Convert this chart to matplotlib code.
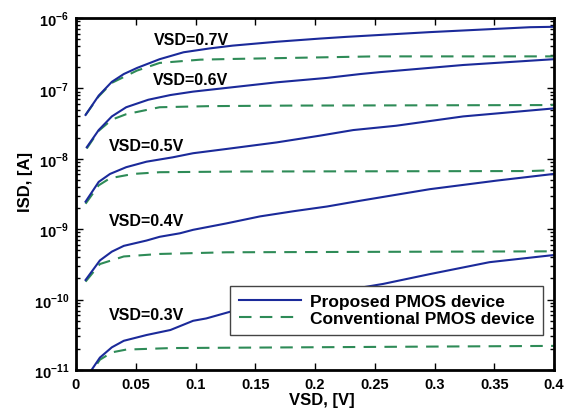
import numpy as np
import matplotlib
matplotlib.use("Agg")
import matplotlib.pyplot as plt
from matplotlib.ticker import FixedLocator, FixedFormatter, LogLocator, NullFormatter

plt.rcParams['font.family'] = ['Liberation Sans', 'DejaVu Sans']
plt.rcParams['font.weight'] = 'bold'
plt.rcParams['mathtext.fontset'] = 'custom'
plt.rcParams['mathtext.rm'] = 'Liberation Sans:bold'
plt.rcParams['mathtext.bf'] = 'Liberation Sans:bold'

# courbes : tension VSD (V) et courant ISD (A)
vsd_labels = ['VSD=0.7V', 'VSD=0.6V', 'VSD=0.5V', 'VSD=0.4V', 'VSD=0.3V']

x_p07 = [0.008, 0.019, 0.030, 0.040, 0.051, 0.070, 0.090, 0.112, 0.131, 0.168, 0.204, 0.2265, 0.296, 0.380, 0.400]
y_p07 = [4.2e-8, 7.9e-8, 1.24e-7, 1.6e-7, 1.95e-7, 2.6e-7, 3.26e-7, 3.7e-7, 4.05e-7, 4.6e-7, 5.1e-7, 5.4e-7, 6.3e-7, 7.4e-7, 7.5e-7]
x_c07 = [0.008, 0.019, 0.030, 0.051, 0.070, 0.104, 0.131, 0.200, 0.250, 0.400]
y_c07 = [4.2e-8, 7.7e-8, 1.2e-7, 1.79e-7, 2.3e-7, 2.56e-7, 2.62e-7, 2.75e-7, 2.85e-7, 2.85e-7]

x_p06 = [0.009, 0.019, 0.030, 0.042, 0.0605, 0.079, 0.098, 0.129, 0.168, 0.210, 0.238, 0.254, 0.324, 0.400]
y_p06 = [1.46e-8, 2.56e-8, 4.0e-8, 5.4e-8, 6.9e-8, 8.05e-8, 9.0e-8, 1.03e-7, 1.22e-7, 1.41e-7, 1.6e-7, 1.7e-7, 2.15e-7, 2.6e-7]
x_c06 = [0.009, 0.019, 0.030, 0.042, 0.070, 0.112, 0.180, 0.400]
y_c06 = [1.4e-8, 2.5e-8, 3.6e-8, 4.3e-8, 5.4e-8, 5.6e-8, 5.7e-8, 5.8e-8]

x_p05 = [0.008, 0.019, 0.0285, 0.042, 0.059, 0.081, 0.098, 0.126, 0.168, 0.204, 0.232, 0.268, 0.324, 0.400]
y_p05 = [2.46e-9, 4.7e-9, 6.1e-9, 7.6e-9, 9.1e-9, 1.05e-8, 1.2e-8, 1.38e-8, 1.71e-8, 2.13e-8, 2.56e-8, 2.95e-8, 4.0e-8, 5.2e-8]
x_c05 = [0.008, 0.019, 0.0285, 0.048, 0.070, 0.140, 0.380, 0.400]
y_c05 = [2.3e-9, 4.2e-9, 5.3e-9, 6.1e-9, 6.45e-9, 6.6e-9, 6.7e-9, 6.9e-9]

x_p04 = [0.008, 0.020, 0.030, 0.040, 0.059, 0.070, 0.087, 0.098, 0.126, 0.154, 0.182, 0.210, 0.238, 0.296, 0.352, 0.400]
y_p04 = [1.9e-10, 3.6e-10, 4.8e-10, 5.8e-10, 6.9e-10, 7.8e-10, 8.75e-10, 9.8e-10, 1.21e-9, 1.52e-9, 1.8e-9, 2.1e-9, 2.54e-9, 3.7e-9, 4.9e-9, 6.1e-9]
x_c04 = [0.008, 0.020, 0.040, 0.070, 0.126, 0.400]
y_c04 = [1.8e-10, 3.2e-10, 4.1e-10, 4.45e-10, 4.7e-10, 4.85e-10]

x_p03 = [0.008, 0.013, 0.020, 0.030, 0.040, 0.059, 0.079, 0.098, 0.109, 0.132, 0.150, 0.200, 0.257, 0.296, 0.346, 0.400]
y_p03 = [7.5e-12, 1.0e-11, 1.5e-11, 2.1e-11, 2.6e-11, 3.14e-11, 3.7e-11, 5.0e-11, 5.4e-11, 6.95e-11, 8.0e-11, 1.15e-10, 1.67e-10, 2.3e-10, 3.4e-10, 4.3e-10]
x_c03 = [0.008, 0.020, 0.030, 0.042, 0.080, 0.400]
y_c03 = [7.0e-12, 1.4e-11, 1.78e-11, 1.95e-11, 2.05e-11, 2.2e-11]

label_x = [0.097, 0.0955, 0.059, 0.059, 0.059]
label_y = [5.0e-7, 1.33e-7, 1.53e-8, 1.32e-9, 6.2e-11]

x_ticks = [0, 0.05, 0.1, 0.15, 0.2, 0.25, 0.3, 0.35, 0.4]
x_ticklabels = ['0', '0.05', '0.1', '0.15', '0.2', '0.25', '0.3', '0.35', '0.4']
y_ticks = [1e-11, 1e-10, 1e-9, 1e-8, 1e-7, 1e-6]
y_ticklabels = [r'$10^{-11}$', r'$10^{-10}$', r'$10^{-9}$', r'$10^{-8}$', r'$10^{-7}$', r'$10^{-6}$']

blue = '#1b2a9a'
green = '#2e8b57'

fig = plt.figure(figsize=(5.81, 4.14), dpi=100)
ax = fig.add_axes([76/581, 1-371/414, (554-76)/581, (371-19)/414])

proposed = [(x_p07, y_p07), (x_p06, y_p06), (x_p05, y_p05), (x_p04, y_p04), (x_p03, y_p03)]
conventional = [(x_c07, y_c07), (x_c06, y_c06), (x_c05, y_c05), (x_c04, y_c04), (x_c03, y_c03)]

for i, ((xp, yp), (xc, yc)) in enumerate(zip(proposed, conventional)):
    ax.plot(xc, yc, color=green, lw=1.5, dashes=(6, 4),
            label='Conventional PMOS device' if i == 0 else None)
    ax.plot(xp, yp, color=blue, lw=1.5,
            label='Proposed PMOS device' if i == 0 else None)

for txt, lx, ly in zip(vsd_labels, label_x, label_y):
    ax.text(lx, ly, txt, ha='center', va='center', fontsize=11.5, fontweight='bold')

ax.set_yscale('log')
ax.set_xlim(0, 0.4)
ax.set_ylim(1e-11, 1e-6)

ax.xaxis.set_major_locator(FixedLocator(x_ticks))
ax.xaxis.set_major_formatter(FixedFormatter(x_ticklabels))
ax.yaxis.set_major_locator(FixedLocator(y_ticks))
ax.yaxis.set_major_formatter(FixedFormatter(y_ticklabels))
ax.yaxis.set_minor_locator(LogLocator(base=10, subs=np.arange(2, 10)))
ax.yaxis.set_minor_formatter(NullFormatter())

ax.tick_params(which='both', direction='in', top=True, right=True, width=1.0)
ax.tick_params(which='major', length=5, labelsize=10.5, pad=5)
ax.tick_params(which='minor', length=3)
for lab in ax.get_xticklabels() + ax.get_yticklabels():
    lab.set_fontweight('bold')
for sp in ax.spines.values():
    sp.set_linewidth(2)

ax.set_xlabel('VSD, [V]', fontsize=12, fontweight='bold')
ax.set_ylabel('ISD, [A]', fontsize=12, fontweight='bold')
ax.xaxis.set_label_coords(0.515, -0.063)
ax.yaxis.set_label_coords(-0.09, 0.537)

handles, labels = ax.get_legend_handles_labels()
order = [labels.index('Proposed PMOS device'), labels.index('Conventional PMOS device')]
leg = ax.legend([handles[k] for k in order], [labels[k] for k in order],
                loc='lower right', bbox_to_anchor=(543/581, 1-336/414),
                bbox_transform=fig.transFigure, borderaxespad=0,
                fancybox=False, framealpha=1, edgecolor='#444444',
                prop={'weight': 'bold', 'size': 12.5}, handlelength=3.6,
                handletextpad=0.5, labelspacing=0.1, borderpad=0.5)
leg.get_frame().set_linewidth(1.0)

fig.savefig('out.png', dpi=100)
